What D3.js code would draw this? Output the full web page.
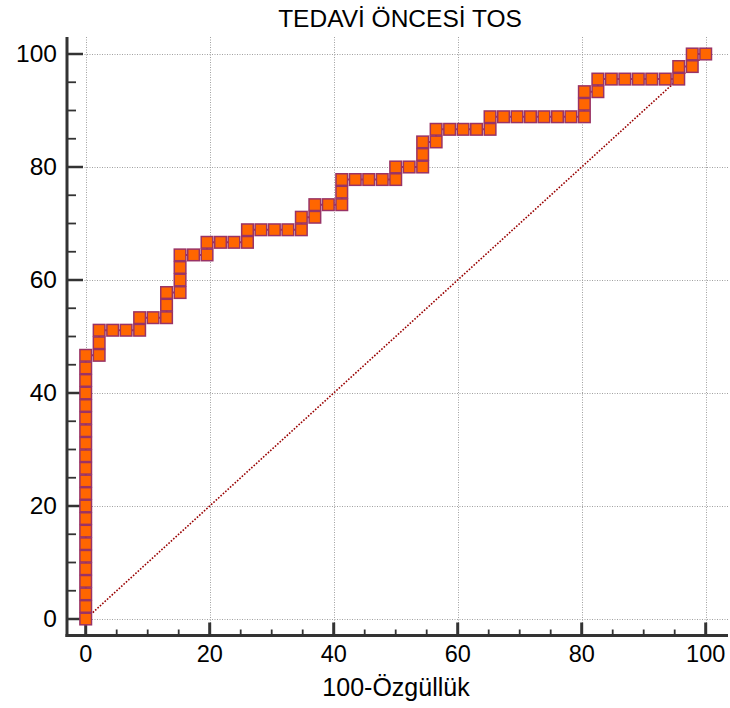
<!DOCTYPE html>
<html><head><meta charset="utf-8">
<script src="https://cdn.jsdelivr.net/npm/d3@7"></script>
<style>body{margin:0;background:#fff}svg{display:block}</style>
</head><body>
<svg id="c" width="730" height="708"></svg>
<script>
const titleText = "TEDAVİ ÖNCESİ TOS";
const xLabelText = "100-Özgüllük";
const xTicks = [0, 20, 40, 60, 80, 100];
const yTicks = [0, 20, 40, 60, 80, 100];
const minorTicks = [5, 10, 15, 25, 30, 35, 45, 50, 55, 65, 70, 75, 85, 90, 95];

// 100-Specificity (%) of each ROC point
const fpr = [0,0,0,0,0,0,0,0,0,0,0,0,0,0,0,0,0,0,0,0,0,0,
  2.17,2.17,2.17,4.35,6.52,8.70,8.70,10.87,13.04,13.04,13.04,15.22,15.22,15.22,15.22,
  17.39,19.57,19.57,21.74,23.91,26.09,26.09,28.26,30.43,32.61,34.78,34.78,36.96,36.96,
  39.13,41.30,41.30,41.30,43.48,45.65,47.83,50.00,50.00,52.17,54.35,54.35,54.35,56.52,
  56.52,58.70,60.87,63.04,65.22,65.22,67.39,69.57,71.74,73.91,76.09,78.26,80.43,80.43,
  80.43,82.61,82.61,84.78,86.96,89.13,91.30,93.48,95.65,95.65,97.83,97.83,100];
// Sensitivity (%) of each ROC point
const tpr = [0,2.22,4.44,6.67,8.89,11.11,13.33,15.56,17.78,20.00,22.22,24.44,26.67,28.89,
  31.11,33.33,35.56,37.78,40.00,42.22,44.44,46.67,
  46.67,48.89,51.11,51.11,51.11,51.11,53.33,53.33,53.33,55.56,57.78,57.78,60.00,62.22,64.44,
  64.44,64.44,66.67,66.67,66.67,66.67,68.89,68.89,68.89,68.89,68.89,71.11,71.11,73.33,
  73.33,73.33,75.56,77.78,77.78,77.78,77.78,77.78,80.00,80.00,80.00,82.22,84.44,84.44,
  86.67,86.67,86.67,86.67,86.67,88.89,88.89,88.89,88.89,88.89,88.89,88.89,88.89,91.11,
  93.33,93.33,95.56,95.56,95.56,95.56,95.56,95.56,95.56,97.78,97.78,100,100];
const diagX = [0, 100];
const diagY = [0, 100];

(function () {
const svg = d3.select("#c");
const font = "'Liberation Sans', Arial, Helvetica, sans-serif";
const x = d3.scaleLinear().domain([0, 100]).range([85.7, 705.7]);
const y = d3.scaleLinear().domain([0, 100]).range([619, 54]);
const pLeft = 67, pRight = 728, pTop = 37, pBottom = 635.5;

// grid
const grid = svg.append("g").attr("stroke", "#a0a0a0").attr("stroke-width", 1).attr("stroke-dasharray", "1,1.5");
grid.selectAll(".gx").data(xTicks).enter().append("line")
  .attr("x1", d => Math.round(x(d)) + 0.5).attr("x2", d => Math.round(x(d)) + 0.5)
  .attr("y1", pTop).attr("y2", pBottom);
grid.selectAll(".gy").data(yTicks).enter().append("line")
  .attr("y1", d => Math.round(y(d)) + 0.5).attr("y2", d => Math.round(y(d)) + 0.5)
  .attr("x1", pLeft).attr("x2", pRight);

// axes
const ax = svg.append("g").attr("stroke", "#333");
ax.append("line").attr("x1", pLeft).attr("x2", pLeft).attr("y1", pTop).attr("y2", pBottom + 1.5).attr("stroke-width", 3);
ax.append("line").attr("x1", pLeft - 1.5).attr("x2", pRight).attr("y1", pBottom).attr("y2", pBottom).attr("stroke-width", 3);
ax.selectAll(".tx").data(xTicks).enter().append("line")
  .attr("x1", d => x(d)).attr("x2", d => x(d)).attr("y1", pBottom).attr("y2", pBottom - 13).attr("stroke-width", 3);
ax.selectAll(".mx").data(minorTicks).enter().append("line")
  .attr("x1", d => x(d)).attr("x2", d => x(d)).attr("y1", pBottom).attr("y2", pBottom - 6).attr("stroke-width", 1.8);
ax.selectAll(".ty").data(yTicks).enter().append("line")
  .attr("y1", d => y(d)).attr("y2", d => y(d)).attr("x1", pLeft).attr("x2", pLeft + 16).attr("stroke-width", 2.5);
ax.selectAll(".my").data(minorTicks).enter().append("line")
  .attr("y1", d => y(d)).attr("y2", d => y(d)).attr("x1", pLeft).attr("x2", pLeft + 9).attr("stroke-width", 1.8);

// tick labels
svg.append("g").selectAll("text").data(yTicks).enter().append("text")
  .attr("x", 57).attr("y", d => y(d) + 7.8).attr("text-anchor", "end")
  .attr("font-family", font).attr("font-size", 24.5).attr("fill", "#000").text(d => d);
svg.append("g").selectAll("text").data(xTicks).enter().append("text")
  .attr("x", d => x(d)).attr("y", 662).attr("text-anchor", "middle")
  .attr("font-family", font).attr("font-size", 23.5).attr("fill", "#000").text(d => d);

// titles
svg.append("text").attr("x", 400).attr("y", 27).attr("text-anchor", "middle")
  .attr("font-family", font).attr("font-size", 24.5).attr("fill", "#000").text(titleText);
svg.append("text").attr("x", 396).attr("y", 696).attr("text-anchor", "middle")
  .attr("font-family", font).attr("font-size", 25).attr("fill", "#000").text(xLabelText);

// diagonal reference
svg.append("line").attr("x1", x(diagX[0])).attr("y1", y(diagY[0])).attr("x2", x(diagX[1])).attr("y2", y(diagY[1]))
  .attr("stroke", "#990000").attr("stroke-width", 1.6).attr("stroke-dasharray", "1.6,1.6");

// ROC line
const pts = fpr.map((v, i) => [v, tpr[i]]);
svg.append("path").datum(pts)
  .attr("d", d3.line().x(d => x(d[0])).y(d => y(d[1])))
  .attr("fill", "none").attr("stroke", "#993366").attr("stroke-width", 2);

// markers
const s = 11.6;
svg.append("g").selectAll("rect").data(pts).enter().append("rect")
  .attr("x", d => x(d[0]) - s / 2).attr("y", d => y(d[1]) - s / 2)
  .attr("width", s).attr("height", s)
  .attr("fill", "#ff6600").attr("stroke", "#993366").attr("stroke-width", 1.5);
})();
</script>
</body></html>
